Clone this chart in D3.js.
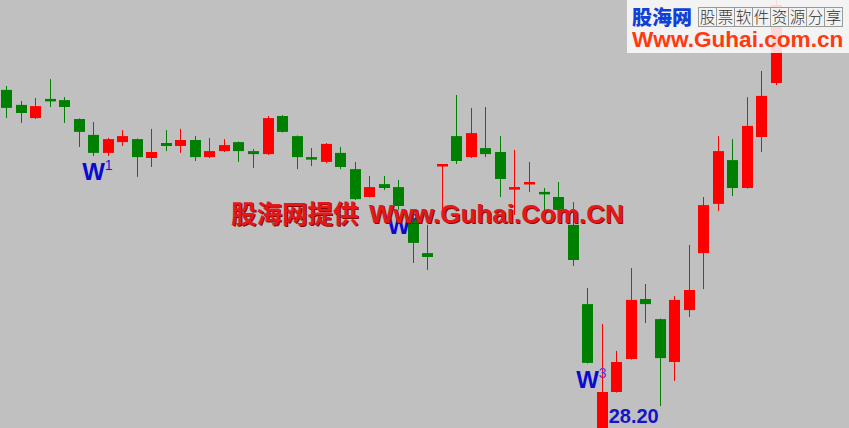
<!DOCTYPE html>
<html>
<head>
<meta charset="utf-8">
<script src="https://cdn.jsdelivr.net/npm/d3@7"></script>
<style>
  html, body { margin: 0; padding: 0; background: #c0c0c0; overflow: hidden; }
  svg { display: block; }
</style>
</head>
<body>
<svg id="chart" width="849" height="428"></svg>
<script>
// ---- data (daily candles, prices) ----
const days = d3.range(1, 55);
const open  = [39.67,39.17,38.73,39.37,39.33,38.70,38.17,37.57,37.93,38.03,
               37.40,37.90,37.80,38.00,37.43,37.63,37.93,37.63,37.53,38.80,
               38.13,37.43,37.27,37.57,37.03,36.10,36.53,36.43,35.40,34.23,
               37.13,38.13,37.43,37.73,37.60,36.37,36.53,36.27,36.10,35.17,
               32.53,28.33,29.60,30.70,32.70,32.03,30.60,32.33,34.23,35.87,
               37.33,36.40,38.10,39.90];
const high  = [39.80,39.30,39.40,40.03,39.43,38.72,38.60,38.07,38.33,38.05,
               38.37,38.33,38.37,38.13,38.07,38.03,37.95,37.70,38.80,38.83,
               38.15,37.73,37.90,37.77,37.27,36.80,36.80,36.67,35.50,35.17,
               37.20,39.50,39.07,39.10,38.13,37.67,37.27,36.40,36.60,35.93,
               33.07,31.87,30.97,33.73,33.20,32.05,32.80,34.50,36.10,38.13,
               38.03,39.43,40.30,42.83];
const low   = [38.73,38.57,38.70,39.10,38.57,37.77,37.47,37.47,37.80,36.77,
               37.10,37.63,37.57,37.30,37.40,37.60,37.27,37.07,37.50,38.25,
               37.03,37.13,37.23,37.03,36.00,36.08,36.33,35.67,33.90,33.67,
               35.50,37.20,37.40,37.43,36.10,35.50,36.27,35.50,35.40,33.80,
               30.55,28.20,29.58,30.68,31.90,29.13,29.97,32.10,33.03,35.63,
               36.13,36.38,37.60,39.83];
const close = [39.07,38.90,39.13,39.30,39.10,38.27,37.57,38.03,38.13,37.43,
               37.60,37.80,38.00,37.43,37.63,37.83,37.63,37.53,38.73,38.27,
               37.43,37.37,37.87,37.10,36.03,36.43,36.40,35.80,34.57,34.10,
               37.20,37.30,38.23,37.53,36.70,36.43,36.60,36.20,35.67,34.00,
               30.57,29.60,30.60,32.67,32.53,30.73,32.67,33.00,35.83,37.63,
               36.40,38.47,39.47,42.50];
// wave labels: candle day, label, superscript
const waveDays  = [7, 28, 41];
const waveNames = ["W", "W", "W"];
const waveNums  = ["1", "2", "3"];
const lowLabelDay = 42;
const lowLabelText = "28.20";
const watermarkCN = "股海网提供";
const watermarkEN = "Www.Guhai.Com.CN";
const logoTitle = "股海网";
const logoCells = ["股","票","软","件","资","源","分","享"];
const logoUrl = "Www.Guhai.com.cn";

const candles = days.map((d, i) => ({day: d, o: open[i], h: high[i], l: low[i], c: close[i]}));

const svg = d3.select("#chart");
const W = 849, H = 428;
const x = d3.scalePoint().domain(days).range([6, 776]);
const y = d3.scaleLinear().domain([28.2, 42.6]).range([434, 2]);

const UP = "#ff0000", DOWN = "#008000";

svg.append("rect").attr("width", W).attr("height", H).attr("fill", "#c0c0c0");

const g = svg.append("g");
const cg = g.selectAll("g.candle").data(candles).join("g").attr("class", "candle");
cg.append("line")
  .attr("x1", d => Math.round(x(d.day)) + 0.5)
  .attr("x2", d => Math.round(x(d.day)) + 0.5)
  .attr("y1", d => y(d.h))
  .attr("y2", d => y(d.l))
  .attr("stroke", d => d.c >= d.o ? UP : DOWN)
  .attr("stroke-width", 1);
cg.append("rect")
  .attr("x", d => Math.round(x(d.day)) - 5)
  .attr("width", 11)
  .attr("y", d => Math.min(y(d.o), y(d.c)))
  .attr("height", d => Math.max(2.5, Math.abs(y(d.o) - y(d.c))))
  .attr("fill", d => d.c >= d.o ? UP : DOWN);

// wave labels
const labFont = "'Liberation Sans', Arial, sans-serif";
waveDays.forEach((d, k) => {
  const c = candles[d - 1];
  const cx = x(d);
  const base = y(c.l) + 24;
  svg.append("text").attr("x", cx + 0.5).attr("y", base)
    .attr("text-anchor", "middle")
    .attr("font-family", labFont).attr("font-weight", "bold").attr("font-size", 24)
    .attr("fill", "#0a0ad0").text(waveNames[k]);
  svg.append("text").attr("x", cx + 11.5).attr("y", base - 10)
    .attr("font-family", labFont).attr("font-size", 14)
    .attr("fill", k === 2 ? "#6a2ad8" : "#1a1ad8").text(waveNums[k]);
});

// low price label
{
  const c = candles[lowLabelDay - 1];
  svg.append("text").attr("x", x(lowLabelDay) + 7).attr("y", y(c.l) - 11)
    .attr("font-family", labFont).attr("font-weight", "bold").attr("font-size", 20)
    .attr("fill", "#1414c8").text(lowLabelText);
}

// watermark
const wm = svg.append("g");
[[1.2, "#8a0808"], [0, "#e41818"]].forEach(([off, col]) => {
  wm.append("text").attr("x", 231 + off).attr("y", 223 + off)
    .attr("font-family", "'Noto Sans CJK SC', sans-serif").attr("font-weight", "bold")
    .attr("font-size", 25.5).attr("fill", col).text(watermarkCN);
  wm.append("text").attr("x", 369 + off).attr("y", 223 + off)
    .attr("font-family", labFont).attr("font-weight", "bold")
    .attr("font-size", 26).attr("fill", col).text(watermarkEN);
});

// logo box
const logo = svg.append("g");
logo.append("rect").attr("x", 627).attr("y", 0).attr("width", 222).attr("height", 53)
  .attr("fill", "#fbfbfb").attr("fill-opacity", 0.86);
logo.append("text").attr("x", 632).attr("y", 25)
  .attr("font-family", "'Noto Sans CJK SC', sans-serif").attr("font-weight", 900)
  .attr("font-size", 20).attr("fill", "#1040d8").text(logoTitle);
logoCells.forEach((ch, i) => {
  logo.append("rect").attr("x", 698.5 + i * 18).attr("y", 7.5).attr("width", 18).attr("height", 19)
    .attr("fill", "#f2f2f2").attr("stroke", "#9a9a9a").attr("stroke-width", 1);
  logo.append("text").attr("x", 707.5 + i * 18).attr("y", 23)
    .attr("text-anchor", "middle")
    .attr("font-family", "'Noto Sans CJK SC', sans-serif").attr("font-weight", 300)
    .attr("font-size", 15.5).attr("fill", "#333").text(ch);
});
logo.append("text").attr("x", 632).attr("y", 47)
  .attr("font-family", labFont).attr("font-weight", "bold")
  .attr("font-size", 22.6).attr("fill", "#ff3a10").text(logoUrl);
</script>
</body>
</html>
